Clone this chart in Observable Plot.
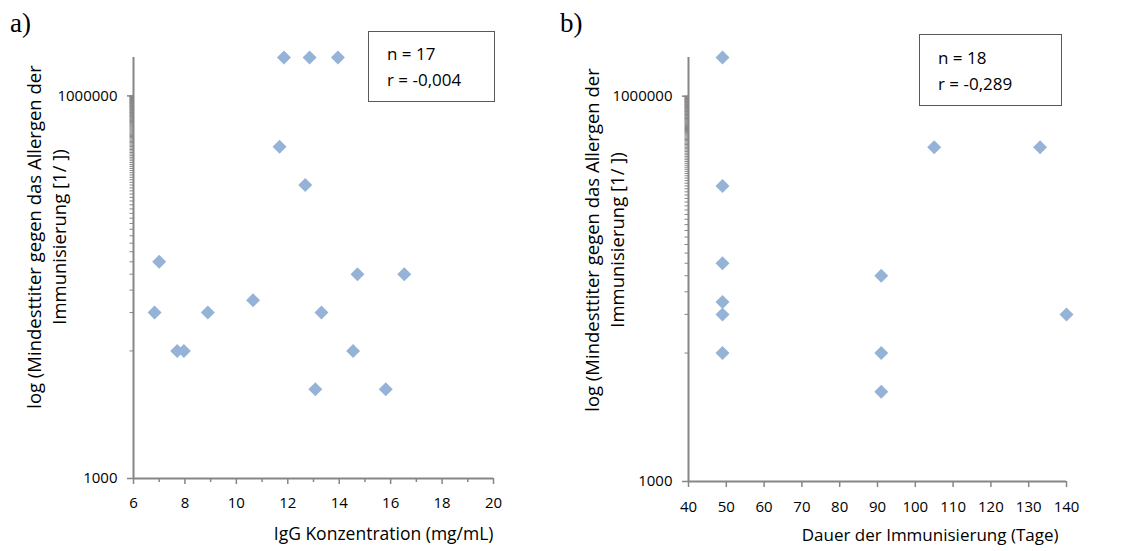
<!DOCTYPE html>
<html><head><meta charset="utf-8">
<script src="https://cdn.jsdelivr.net/npm/d3@7"></script>
<script src="https://cdn.jsdelivr.net/npm/@observablehq/plot@0.6"></script>
<style>
body{margin:0;background:#fff;}
#chart{position:relative;width:1129px;height:551px;overflow:hidden;font-family:"Open Sans",sans-serif;background:#fff;}
.panel{position:absolute;top:0;}
.tag{position:absolute;font-family:"Liberation Serif","Times New Roman",serif;font-size:27px;line-height:1;color:#000;}
.box{position:absolute;border:1px solid #595959;box-sizing:border-box;font-size:17px;line-height:26px;padding-left:18px;background:#fff;color:#000;}
</style></head>
<body><div id="chart"></div>
<script>
// Panel a: IgG concentration vs titer
const igG   = [11.85, 12.85, 13.95, 11.68, 12.68, 7.0, 14.71, 16.53, 6.82, 8.89, 13.31, 10.65, 7.70, 7.96, 14.54, 13.07, 15.81];
const titerA = [2e6, 2e6, 2e6, 4e5, 2e5, 5e4, 4e4, 4e4, 2e4, 2e4, 2e4, 2.5e4, 1e4, 1e4, 1e4, 5e3, 5e3];
// Panel b: duration vs titer
const days   = [49, 49, 49, 49, 49, 49, 91, 91, 91, 105, 133, 140];
const titerB = [2e6, 2e5, 5e4, 2.5e4, 2e4, 1e4, 4e4, 1e4, 5e3, 4e5, 4e5, 2e4];

const xTicksA = [6, 8, 10, 12, 14, 16, 18, 20];
const xMinorA = [7, 9, 11, 13, 15, 17, 19];
const xTicksB = [40, 50, 60, 70, 80, 90, 100, 110, 120, 130, 140];
const yTicks = [1000, 1000000];
const yMinor = d3.range(10000, 1000001, 10000);

const statsA = ["n = 17", "r = -0,004"];
const statsB = ["n = 18", "r = -0,289"];
const yTitle = "log (Mindesttiter gegen das Allergen der\nImmunisierung [1/ ])";
const xTitleA = "IgG Konzentration (mg/mL)";
const xTitleB = "Dauer der Immunisierung (Tage)";

const gray = "#868686";
const blue = "#95b3d7";

function panel({xs, ys, xDomain, xTicks, xMinor, xTitle, ml, mr, mb, w, titleDx, titleDy, xTitleDx, xTitleDy, xPad, xFont}) {
  const data = xs.map((x, i) => ({x, y: ys[i]}));
  const marks = [
    Plot.ruleX([xDomain[0]], {stroke: gray, strokeWidth: 2}),
    Plot.ruleY([1000], {stroke: gray, strokeWidth: 2}),
    Plot.axisX(xTicks, {tickSize: 6, tickPadding: xPad, stroke: gray, strokeWidth: 1.5, label: null, tickFormat: d => String(d), fontSize: 15}),
    Plot.axisY(yMinor, {tickSize: 3.5, stroke: gray, strokeWidth: 1, label: null, tickFormat: () => ""}),
    Plot.axisY(yTicks, {tickSize: 6, tickPadding: 10, stroke: gray, strokeWidth: 1.5, label: null, tickFormat: d => String(d), fontSize: 15}),
    Plot.dot(data, {x: "x", y: "y", symbol: "diamond2", r: 6.3, fill: blue}),
    Plot.text([yTitle], {frameAnchor: "top-left", textAnchor: "middle", lineAnchor: "middle", rotate: -90, dx: titleDx, dy: titleDy, lineHeight: 1.35, fontSize: 18.5, text: d => d, fill: "#000"}),
    Plot.text([xTitle], {frameAnchor: "bottom-right", textAnchor: "end", dx: xTitleDx, dy: xTitleDy, fontSize: xFont, text: d => d, fill: "#000"})
  ];
  if (xMinor) marks.splice(3, 0, Plot.axisX(xMinor, {tickSize: 4, stroke: gray, strokeWidth: 1.5, label: null, tickFormat: () => ""}));
  return Plot.plot({
    width: w, height: 551,
    marginLeft: ml, marginRight: mr, marginTop: 57, marginBottom: mb,
    style: {fontFamily: "Open Sans, sans-serif", fontSize: "15px", color: "#000", background: "transparent", overflow: "visible"},
    x: {domain: xDomain},
    y: {type: "log", domain: [1000, 2e6]},
    marks
  });
}

const chart = document.getElementById("chart");

const pa = panel({xs: igG, ys: titerA, xDomain: [6, 20], xTicks: xTicksA, xMinor: xMinorA, xTitle: xTitleA,
  ml: 133, mr: 67, mb: 73, w: 560, titleDx: -88, titleDy: 179.5, xTitleDx: 0, xTitleDy: 61, xPad: 12.5, xFont: 17.5});
pa.classList.add("panel"); pa.style.left = "0px";
chart.appendChild(pa);

const pb = panel({xs: days, ys: titerB, xDomain: [40, 140], xTicks: xTicksB, xMinor: null, xTitle: xTitleB,
  ml: 128, mr: 63, mb: 70, w: 569, titleDx: -85, titleDy: 182.5, xTitleDx: -8, xTitleDy: 59, xPad: 14, xFont: 17});
pb.classList.add("panel"); pb.style.left = "560px";
chart.appendChild(pb);

function addTag(txt, left, top) {
  const d = document.createElement("div");
  d.className = "tag"; d.textContent = txt;
  d.style.left = left + "px"; d.style.top = top + "px";
  chart.appendChild(d);
}
addTag("a)", 10, 10);
addTag("b)", 560, 10);

function addBox(lines, left, top, width, height, padTop) {
  const d = document.createElement("div");
  d.className = "box";
  d.style.left = left + "px"; d.style.top = top + "px";
  d.style.width = width + "px"; d.style.height = height + "px";
  d.style.paddingTop = padTop + "px";
  lines.forEach(l => { const s = document.createElement("div"); s.textContent = l; d.appendChild(s); });
  chart.appendChild(d);
}
addBox(statsA, 368, 31, 127, 71, 9);
addBox(statsB, 919, 34, 143, 72, 10);
</script>
</body></html>
